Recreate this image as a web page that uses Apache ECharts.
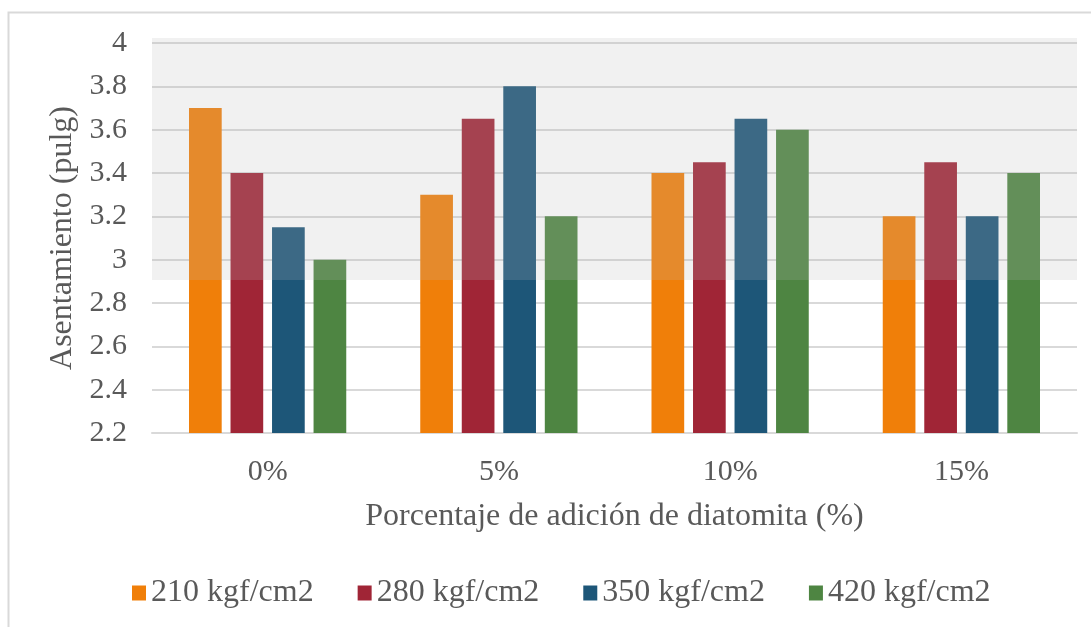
<!DOCTYPE html>
<html>
<head>
<meta charset="utf-8">
<script src="https://cdn.jsdelivr.net/npm/echarts@6/dist/echarts.min.js"></script>
<style>
html,body{margin:0;padding:0;background:#fff;}
#c{width:1091px;height:627px;}
</style>
</head>
<body>
<div id="c"></div>
<script>
const categories = ['0%', '5%', '10%', '15%'];
const seriesNames = ['210 kgf/cm2', '280 kgf/cm2', '350 kgf/cm2', '420 kgf/cm2'];
const s210 = [3.7, 3.3, 3.4, 3.2];
const s280 = [3.4, 3.65, 3.45, 3.45];
const s350 = [3.15, 3.8, 3.65, 3.2];
const s420 = [3.0, 3.2, 3.6, 3.4];
const colors = ['#F07F09', '#A02536', '#1D5678', '#4E8542'];
const yTitle = 'Asentamiento (pulg)';
const xTitle = 'Porcentaje de adición de diatomita (%)';

const font = 'Liberation Serif';
const txt = '#595959';
const values = [s210, s280, s350, s420];

const chart = echarts.init(document.getElementById('c'), null, {renderer: 'canvas'});
chart.setOption({
  animation: false,
  backgroundColor: '#fff',
  color: colors,
  grid: {left: 152, right: 14, top: 43, bottom: 194, containLabel: false},
  legend: {
    left: 127, top: 572,
    itemWidth: 14, itemHeight: 15, itemGap: 44,
    icon: 'rect',
    textStyle: {fontFamily: font, fontSize: 32, color: txt},
    data: seriesNames
  },
  xAxis: {
    type: 'category',
    data: categories,
    name: xTitle,
    nameLocation: 'middle',
    nameGap: 68,
    nameTextStyle: {fontFamily: font, fontSize: 32, color: txt},
    axisLine: {lineStyle: {color: '#d9d9d9', width: 2}},
    axisTick: {show: false},
    axisLabel: {fontFamily: font, fontSize: 30, color: txt, margin: 24}
  },
  yAxis: {
    type: 'value',
    min: 2.2, max: 4, interval: 0.2,
    name: yTitle,
    nameLocation: 'middle',
    nameRotate: 90,
    nameGap: 72,
    nameTextStyle: {fontFamily: font, fontSize: 32, color: txt},
    axisLine: {show: false},
    axisTick: {show: false},
    splitLine: {lineStyle: {color: '#d9d9d9', width: 2}},
    axisLabel: {fontFamily: font, fontSize: 30, color: txt, margin: 25,
      formatter: v => String(Math.round(v * 10) / 10)}
  },
  series: seriesNames.map((n, i) => ({
    name: n,
    type: 'bar',
    data: values[i],
    barGap: '27%',
    barCategoryGap: '32%',
    itemStyle: {color: colors[i]}
  })),
  graphic: [
    {type: 'rect', silent: true, z: 100,
     shape: {x: 152, y: 38, width: 925, height: 242},
     style: {fill: 'rgba(186,186,186,0.2)'}},
    {type: 'rect', silent: true, z: 100,
     shape: {x: 8.5, y: 12.5, width: 1100, height: 700},
     style: {fill: 'none', stroke: '#d9d9d9', lineWidth: 2}}
  ]
});
</script>
</body>
</html>
